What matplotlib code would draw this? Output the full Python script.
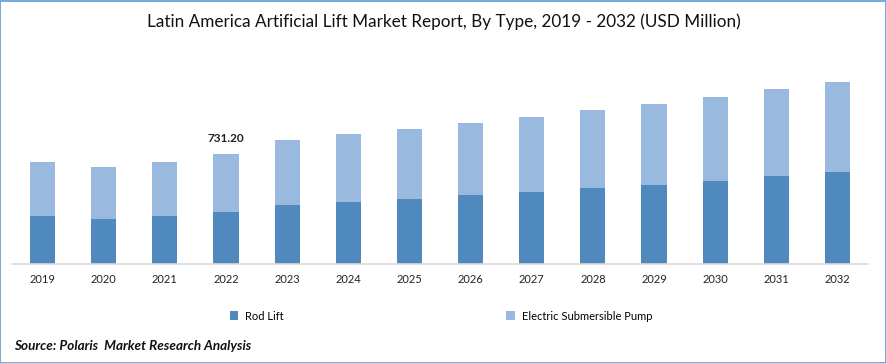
import matplotlib.pyplot as plt
import numpy as np
from matplotlib.patches import Rectangle

years = ['2019', '2020', '2021', '2022', '2023', '2024', '2025',
         '2026', '2027', '2028', '2029', '2030', '2031', '2032']
rod_lift = [319, 299, 319, 346.0, 392, 412, 432, 459, 479, 505, 525, 552, 585, 612]
esp = [359, 346, 359, 385.2, 432, 452, 465, 479, 499, 518, 538, 558, 578, 598]
labels = ['Rod Lift', 'Electric Submersible Pump']

plt.rcParams['font.family'] = ['Lato', 'DejaVu Sans']

W, H = 887, 363
fig = plt.figure(figsize=(W / 100, H / 100), dpi=100)
ax = fig.add_axes([12 / W, (H - 264) / H, 856 / W, 194 / H])

x = np.arange(len(years))
b1 = ax.bar(x, rod_lift, width=0.41, color='#4F89BD', label=labels[0])
b2 = ax.bar(x, esp, width=0.41, bottom=rod_lift, color='#9AB9DF', label=labels[1])

total_2022 = rod_lift[3] + esp[3]
ax.annotate(f'{total_2022:.2f}', (3, total_2022), xytext=(0, 7), textcoords='offset points',
            ha='center', va='bottom', fontsize=8.5, fontweight='bold', color='#222222')

ax.set_xlim(-0.5, len(years) - 0.5)
ax.set_ylim(0, 1290)
ax.set_xticks(x)
ax.set_xticklabels(years, fontsize=8, color='#222222')
ax.tick_params(axis='x', length=0, pad=7.5)
ax.set_yticks([])
for s in ['top', 'right', 'left']:
    ax.spines[s].set_visible(False)
ax.spines['bottom'].set_color('#D9D9D9')
ax.spines['bottom'].set_linewidth(1.2)

fig.text(0.5, 1 - 22 / H, 'Latin America Artificial Lift Market Report, By Type, 2019 - 2032 (USD Million)',
         ha='center', va='center', fontsize=12.3, color='#111111')

fig.legend(handles=[b1, b2], labels=labels, loc='center', bbox_to_anchor=(0.497, 1 - 316 / H),
           ncol=2, frameon=False, fontsize=8, handlelength=0.8, handleheight=0.8,
           handletextpad=0.6, columnspacing=20)

fig.text(14 / W, 1 - 346 / H, 'Source: Polaris  Market Research Analysis', ha='left', va='center',
         fontsize=9.7, fontweight='bold', fontstyle='italic', color='#111111')

fig.patches.append(Rectangle((0.5 / W, 0.5 / H), 1 - 1.5 / W, 1 - 1.5 / H, transform=fig.transFigure,
                             fill=False, edgecolor='#5B9BD5', linewidth=1.2))

fig.savefig('out.png', dpi=100)
